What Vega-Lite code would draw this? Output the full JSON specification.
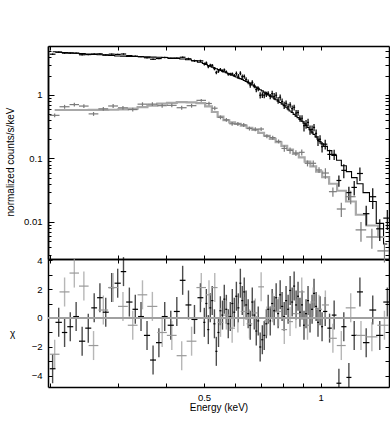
{
  "$schema": "https://vega.github.io/schema/vega-lite/v6.json",
  "width": 341,
  "height": 341,
  "autosize": "none",
  "padding": {"left": 48, "top": 46, "right": 1, "bottom": 47},
  "background": "white",
  "config": {
    "view": {"stroke": null},
    "axis": {
      "grid": false,
      "domainColor": "#000000",
      "domainWidth": 1.5,
      "tickColor": "#000000",
      "tickWidth": 1,
      "labelFont": "Liberation Sans",
      "labelFontSize": 9.5,
      "labelColor": "#000000",
      "titleFont": "Liberation Sans",
      "titleFontSize": 10,
      "titleFontWeight": "normal",
      "titleColor": "#000000"
    }
  },
  "data": {
    "values": [
      {"s":"A","e":0.2035,"el":0.2,"eh":0.207,"y":4.39,"yl":4.28,"yh":4.5,"m":4.81,"r":-3.5},
      {"s":"A","e":0.211,"el":0.207,"eh":0.215,"y":4.71,"yl":4.59,"yh":4.83,"m":4.75,"r":-0.3},
      {"s":"A","e":0.2185,"el":0.215,"eh":0.222,"y":4.56,"yl":4.45,"yh":4.67,"m":4.68,"r":-1.0},
      {"s":"A","e":0.226,"el":0.222,"eh":0.23,"y":4.55,"yl":4.44,"yh":4.66,"m":4.62,"r":-0.6},
      {"s":"A","e":0.234,"el":0.23,"eh":0.238,"y":4.56,"yl":4.45,"yh":4.67,"m":4.55,"r":0.1},
      {"s":"A","e":0.2425,"el":0.238,"eh":0.247,"y":4.3,"yl":4.19,"yh":4.41,"m":4.48,"r":-1.6},
      {"s":"A","e":0.2515,"el":0.247,"eh":0.256,"y":4.33,"yl":4.22,"yh":4.44,"m":4.41,"r":-0.7},
      {"s":"A","e":0.2605,"el":0.256,"eh":0.265,"y":4.43,"yl":4.32,"yh":4.54,"m":4.35,"r":0.7},
      {"s":"A","e":0.2695,"el":0.265,"eh":0.274,"y":4.45,"yl":4.34,"yh":4.56,"m":4.3,"r":1.4},
      {"s":"A","e":0.279,"el":0.274,"eh":0.284,"y":4.28,"yl":4.17,"yh":4.39,"m":4.24,"r":0.4},
      {"s":"A","e":0.289,"el":0.284,"eh":0.294,"y":4.4,"yl":4.29,"yh":4.51,"m":4.18,"r":2.1},
      {"s":"A","e":0.2995,"el":0.294,"eh":0.305,"y":4.36,"yl":4.25,"yh":4.47,"m":4.11,"r":2.4},
      {"s":"A","e":0.31,"el":0.305,"eh":0.315,"y":4.42,"yl":4.31,"yh":4.53,"m":4.09,"r":3.2},
      {"s":"A","e":0.321,"el":0.315,"eh":0.327,"y":4.17,"yl":4.07,"yh":4.27,"m":4.06,"r":1.1},
      {"s":"A","e":0.3325,"el":0.327,"eh":0.338,"y":4.09,"yl":3.99,"yh":4.19,"m":4.03,"r":0.6},
      {"s":"A","e":0.344,"el":0.338,"eh":0.35,"y":4.02,"yl":3.92,"yh":4.12,"m":4.01,"r":0.1},
      {"s":"A","e":0.3565,"el":0.35,"eh":0.363,"y":3.86,"yl":3.76,"yh":3.96,"m":3.98,"r":-1.2},
      {"s":"A","e":0.3695,"el":0.363,"eh":0.376,"y":3.66,"yl":3.57,"yh":3.75,"m":3.95,"r":-2.9},
      {"s":"A","e":0.3825,"el":0.376,"eh":0.389,"y":3.75,"yl":3.66,"yh":3.84,"m":3.92,"r":-1.7},
      {"s":"A","e":0.396,"el":0.389,"eh":0.403,"y":3.9,"yl":3.8,"yh":4.0,"m":3.89,"r":0.1},
      {"s":"A","e":0.4105,"el":0.403,"eh":0.418,"y":3.77,"yl":3.68,"yh":3.86,"m":3.82,"r":-0.5},
      {"s":"A","e":0.4255,"el":0.418,"eh":0.433,"y":3.81,"yl":3.71,"yh":3.91,"m":3.77,"r":0.45},
      {"s":"A","e":0.4405,"el":0.433,"eh":0.448,"y":3.93,"yl":3.83,"yh":4.03,"m":3.69,"r":2.6},
      {"s":"A","e":0.456,"el":0.448,"eh":0.464,"y":3.72,"yl":3.57,"yh":3.87,"m":3.59,"r":0.9},
      {"s":"A","e":0.4725,"el":0.464,"eh":0.481,"y":3.46,"yl":3.32,"yh":3.6,"m":3.47,"r":-0.1},
      {"s":"A","e":0.4895,"el":0.481,"eh":0.498,"y":3.45,"yl":3.31,"yh":3.59,"m":3.27,"r":1.4},
      {"s":"A","e":0.501,"el":0.498,"eh":0.504,"y":3.08,"yl":2.91,"yh":3.25,"m":3.13,"r":-0.3},
      {"s":"A","e":0.507,"el":0.504,"eh":0.51,"y":3.2,"yl":3.03,"yh":3.37,"m":3.03,"r":1.0},
      {"s":"A","e":0.513,"el":0.51,"eh":0.516,"y":2.79,"yl":2.63,"yh":2.95,"m":2.92,"r":-0.8},
      {"s":"A","e":0.519,"el":0.516,"eh":0.522,"y":2.94,"yl":2.78,"yh":3.1,"m":2.83,"r":0.7},
      {"s":"A","e":0.525,"el":0.522,"eh":0.5285,"y":2.93,"yl":2.78,"yh":3.08,"m":2.75,"r":1.2},
      {"s":"A","e":0.532,"el":0.5285,"eh":0.535,"y":2.6,"yl":2.45,"yh":2.75,"m":2.66,"r":-0.4},
      {"s":"A","e":0.538,"el":0.535,"eh":0.5415,"y":2.26,"yl":2.12,"yh":2.4,"m":2.59,"r":-2.3},
      {"s":"A","e":0.545,"el":0.5415,"eh":0.548,"y":2.37,"yl":2.23,"yh":2.51,"m":2.51,"r":-1.0},
      {"s":"A","e":0.551,"el":0.548,"eh":0.5545,"y":2.52,"yl":2.38,"yh":2.65,"m":2.45,"r":0.5},
      {"s":"A","e":0.558,"el":0.5545,"eh":0.561,"y":2.4,"yl":2.27,"yh":2.53,"m":2.37,"r":0.2},
      {"s":"A","e":0.564,"el":0.561,"eh":0.5675,"y":2.48,"yl":2.35,"yh":2.61,"m":2.31,"r":1.3},
      {"s":"A","e":0.571,"el":0.5675,"eh":0.574,"y":2.31,"yl":2.19,"yh":2.43,"m":2.24,"r":0.6},
      {"s":"A","e":0.5775,"el":0.574,"eh":0.581,"y":2.13,"yl":2.01,"yh":2.25,"m":2.18,"r":-0.4},
      {"s":"A","e":0.5845,"el":0.581,"eh":0.588,"y":2.13,"yl":2.01,"yh":2.25,"m":2.12,"r":0.1},
      {"s":"A","e":0.5915,"el":0.588,"eh":0.595,"y":2.16,"yl":2.05,"yh":2.27,"m":2.05,"r":1.0},
      {"s":"A","e":0.5985,"el":0.595,"eh":0.602,"y":2.03,"yl":1.92,"yh":2.14,"m":1.99,"r":0.4},
      {"s":"A","e":0.606,"el":0.602,"eh":0.6095,"y":2.18,"yl":2.01,"yh":2.35,"m":1.92,"r":1.5},
      {"s":"A","e":0.613,"el":0.6095,"eh":0.617,"y":1.98,"yl":1.81,"yh":2.15,"m":1.86,"r":0.7},
      {"s":"A","e":0.6205,"el":0.617,"eh":0.624,"y":2.2,"yl":2.04,"yh":2.36,"m":1.81,"r":2.4},
      {"s":"A","e":0.6275,"el":0.624,"eh":0.631,"y":1.94,"yl":1.78,"yh":2.1,"m":1.75,"r":1.2},
      {"s":"A","e":0.635,"el":0.631,"eh":0.6385,"y":1.96,"yl":1.81,"yh":2.11,"m":1.69,"r":1.8},
      {"s":"A","e":0.642,"el":0.6385,"eh":0.646,"y":1.76,"yl":1.61,"yh":1.91,"m":1.63,"r":0.9},
      {"s":"A","e":0.65,"el":0.646,"eh":0.654,"y":1.61,"yl":1.47,"yh":1.75,"m":1.57,"r":0.3},
      {"s":"A","e":0.658,"el":0.654,"eh":0.662,"y":1.44,"yl":1.3,"yh":1.58,"m":1.51,"r":-0.5},
      {"s":"A","e":0.666,"el":0.662,"eh":0.67,"y":1.58,"yl":1.45,"yh":1.71,"m":1.44,"r":1.1},
      {"s":"A","e":0.674,"el":0.67,"eh":0.678,"y":1.4,"yl":1.28,"yh":1.52,"m":1.38,"r":0.2},
      {"s":"A","e":0.682,"el":0.678,"eh":0.686,"y":1.22,"yl":1.1,"yh":1.34,"m":1.33,"r":-0.9},
      {"s":"A","e":0.69,"el":0.686,"eh":0.694,"y":1.25,"yl":1.14,"yh":1.36,"m":1.27,"r":-0.2},
      {"s":"A","e":0.698,"el":0.694,"eh":0.7025,"y":0.99,"yl":0.88,"yh":1.1,"m":1.21,"r":-2.0},
      {"s":"A","e":0.707,"el":0.7025,"eh":0.711,"y":1.0,"yl":0.9,"yh":1.1,"m":1.16,"r":-1.5},
      {"s":"A","e":0.715,"el":0.711,"eh":0.7195,"y":0.99,"yl":0.89,"yh":1.09,"m":1.11,"r":-1.2},
      {"s":"A","e":0.724,"el":0.7195,"eh":0.728,"y":1.02,"yl":0.93,"yh":1.12,"m":1.06,"r":-0.4},
      {"s":"A","e":0.732,"el":0.728,"eh":0.7365,"y":1.06,"yl":0.97,"yh":1.15,"m":1.01,"r":0.6},
      {"s":"A","e":0.741,"el":0.7365,"eh":0.745,"y":0.95,"yl":0.86,"yh":1.04,"m":0.97,"r":-0.2},
      {"s":"A","e":0.7495,"el":0.745,"eh":0.754,"y":1.05,"yl":0.93,"yh":1.17,"m":0.93,"r":1.0},
      {"s":"A","e":0.7585,"el":0.754,"eh":0.763,"y":0.95,"yl":0.83,"yh":1.07,"m":0.89,"r":0.5},
      {"s":"A","e":0.7675,"el":0.763,"eh":0.772,"y":0.99,"yl":0.88,"yh":1.1,"m":0.84,"r":1.4},
      {"s":"A","e":0.7765,"el":0.772,"eh":0.781,"y":0.83,"yl":0.73,"yh":0.93,"m":0.8,"r":0.3},
      {"s":"A","e":0.786,"el":0.781,"eh":0.7905,"y":0.92,"yl":0.82,"yh":1.02,"m":0.76,"r":1.6},
      {"s":"A","e":0.795,"el":0.7905,"eh":0.8,"y":0.79,"yl":0.7,"yh":0.88,"m":0.72,"r":0.8},
      {"s":"A","e":0.805,"el":0.8,"eh":0.8095,"y":0.69,"yl":0.6,"yh":0.78,"m":0.68,"r":0.1},
      {"s":"A","e":0.814,"el":0.8095,"eh":0.819,"y":0.74,"yl":0.66,"yh":0.82,"m":0.64,"r":1.2},
      {"s":"A","e":0.824,"el":0.819,"eh":0.829,"y":0.65,"yl":0.57,"yh":0.73,"m":0.6,"r":0.6},
      {"s":"A","e":0.834,"el":0.829,"eh":0.839,"y":0.7,"yl":0.63,"yh":0.77,"m":0.56,"r":1.9},
      {"s":"A","e":0.844,"el":0.839,"eh":0.849,"y":0.61,"yl":0.54,"yh":0.68,"m":0.53,"r":1.1},
      {"s":"A","e":0.854,"el":0.849,"eh":0.859,"y":0.64,"yl":0.57,"yh":0.7,"m":0.495,"r":2.2},
      {"s":"A","e":0.864,"el":0.859,"eh":0.869,"y":0.52,"yl":0.46,"yh":0.58,"m":0.465,"r":0.9},
      {"s":"A","e":0.874,"el":0.869,"eh":0.879,"y":0.53,"yl":0.47,"yh":0.58,"m":0.44,"r":1.5},
      {"s":"A","e":0.884,"el":0.879,"eh":0.8895,"y":0.43,"yl":0.38,"yh":0.48,"m":0.41,"r":0.4},
      {"s":"A","e":0.895,"el":0.8895,"eh":0.9,"y":0.43,"yl":0.38,"yh":0.48,"m":0.385,"r":0.9},
      {"s":"A","e":0.9055,"el":0.9,"eh":0.911,"y":0.328,"yl":0.267,"yh":0.389,"m":0.358,"r":-0.5},
      {"s":"A","e":0.9165,"el":0.911,"eh":0.922,"y":0.349,"yl":0.293,"yh":0.405,"m":0.332,"r":0.3},
      {"s":"A","e":0.9275,"el":0.922,"eh":0.933,"y":0.37,"yl":0.318,"yh":0.422,"m":0.307,"r":1.2},
      {"s":"A","e":0.9385,"el":0.933,"eh":0.944,"y":0.284,"yl":0.236,"yh":0.332,"m":0.284,"r":0.0},
      {"s":"A","e":0.95,"el":0.944,"eh":0.9555,"y":0.287,"yl":0.243,"yh":0.331,"m":0.26,"r":0.6},
      {"s":"A","e":0.961,"el":0.9555,"eh":0.967,"y":0.309,"yl":0.268,"yh":0.35,"m":0.24,"r":1.7},
      {"s":"A","e":0.973,"el":0.967,"eh":0.9785,"y":0.249,"yl":0.212,"yh":0.286,"m":0.219,"r":0.8},
      {"s":"A","e":0.984,"el":0.9785,"eh":0.99,"y":0.191,"yl":0.157,"yh":0.225,"m":0.201,"r":-0.3},
      {"s":"A","e":0.996,"el":0.99,"eh":1.002,"y":0.201,"yl":0.17,"yh":0.232,"m":0.185,"r":0.5},
      {"s":"A","e":1.008,"el":1.002,"eh":1.014,"y":0.153,"yl":0.124,"yh":0.182,"m":0.17,"r":-0.6},
      {"s":"A","e":1.027,"el":1.014,"eh":1.04,"y":0.168,"yl":0.138,"yh":0.198,"m":0.155,"r":0.45},
      {"s":"A","e":1.054,"el":1.04,"eh":1.068,"y":0.116,"yl":0.095,"yh":0.137,"m":0.133,"r":-0.7},
      {"s":"A","e":1.083,"el":1.068,"eh":1.098,"y":0.116,"yl":0.095,"yh":0.137,"m":0.112,"r":0.2},
      {"s":"A","e":1.114,"el":1.098,"eh":1.13,"y":0.045,"yl":0.036,"yh":0.054,"m":0.094,"r":-4.5},
      {"s":"A","e":1.147,"el":1.13,"eh":1.165,"y":0.065,"yl":0.049,"yh":0.081,"m":0.077,"r":-0.6},
      {"s":"A","e":1.182,"el":1.165,"eh":1.2,"y":0.029,"yl":0.022,"yh":0.036,"m":0.062,"r":-4.1},
      {"s":"A","e":1.22,"el":1.2,"eh":1.24,"y":0.035,"yl":0.026,"yh":0.044,"m":0.05,"r":-1.2},
      {"s":"A","e":1.262,"el":1.24,"eh":1.285,"y":0.058,"yl":0.044,"yh":0.072,"m":0.04,"r":1.8},
      {"s":"A","e":1.31,"el":1.285,"eh":1.335,"y":0.0135,"yl":0.0088,"yh":0.018,"m":0.029,"r":-1.7},
      {"s":"A","e":1.362,"el":1.335,"eh":1.39,"y":0.025,"yl":0.016,"yh":0.034,"m":0.021,"r":0.55},
      {"s":"A","e":1.42,"el":1.39,"eh":1.45,"y":0.0078,"yl":0.005,"yh":0.011,"m":0.0095,"r":-1.2},
      {"s":"A","e":1.485,"el":1.45,"eh":1.52,"y":0.0115,"yl":0.0075,"yh":0.0155,"m":0.0045,"r":1.1},
      {"s":"B","e":0.206,"el":0.2,"eh":0.212,"y":0.478,"yl":0.445,"yh":0.511,"m":0.58,"r":-2.5},
      {"s":"B","e":0.2185,"el":0.212,"eh":0.225,"y":0.653,"yl":0.607,"yh":0.699,"m":0.58,"r":1.8},
      {"s":"B","e":0.2315,"el":0.225,"eh":0.238,"y":0.706,"yl":0.657,"yh":0.755,"m":0.58,"r":3.1},
      {"s":"B","e":0.245,"el":0.238,"eh":0.252,"y":0.669,"yl":0.622,"yh":0.716,"m":0.58,"r":2.2},
      {"s":"B","e":0.2595,"el":0.252,"eh":0.267,"y":0.504,"yl":0.469,"yh":0.539,"m":0.581,"r":-1.9},
      {"s":"B","e":0.275,"el":0.267,"eh":0.283,"y":0.605,"yl":0.563,"yh":0.647,"m":0.583,"r":0.55},
      {"s":"B","e":0.2915,"el":0.283,"eh":0.3,"y":0.671,"yl":0.624,"yh":0.718,"m":0.585,"r":2.1},
      {"s":"B","e":0.309,"el":0.3,"eh":0.318,"y":0.628,"yl":0.584,"yh":0.672,"m":0.595,"r":0.8},
      {"s":"B","e":0.3275,"el":0.318,"eh":0.337,"y":0.589,"yl":0.548,"yh":0.63,"m":0.61,"r":-0.5},
      {"s":"B","e":0.347,"el":0.337,"eh":0.357,"y":0.717,"yl":0.667,"yh":0.767,"m":0.645,"r":1.6},
      {"s":"B","e":0.368,"el":0.357,"eh":0.379,"y":0.718,"yl":0.668,"yh":0.768,"m":0.68,"r":0.8},
      {"s":"B","e":0.39,"el":0.379,"eh":0.401,"y":0.679,"yl":0.631,"yh":0.727,"m":0.73,"r":-1.0},
      {"s":"B","e":0.413,"el":0.401,"eh":0.425,"y":0.687,"yl":0.639,"yh":0.735,"m":0.75,"r":-1.2},
      {"s":"B","e":0.438,"el":0.425,"eh":0.451,"y":0.63,"yl":0.586,"yh":0.674,"m":0.77,"r":-2.6},
      {"s":"B","e":0.4645,"el":0.451,"eh":0.478,"y":0.679,"yl":0.631,"yh":0.727,"m":0.765,"r":-1.6},
      {"s":"B","e":0.492,"el":0.478,"eh":0.506,"y":0.823,"yl":0.782,"yh":0.864,"m":0.745,"r":2.1},
      {"s":"B","e":0.515,"el":0.506,"eh":0.524,"y":0.734,"yl":0.683,"yh":0.785,"m":0.66,"r":1.6},
      {"s":"B","e":0.533,"el":0.524,"eh":0.542,"y":0.619,"yl":0.576,"yh":0.662,"m":0.54,"r":2.1},
      {"s":"B","e":0.5515,"el":0.542,"eh":0.561,"y":0.445,"yl":0.414,"yh":0.476,"m":0.455,"r":-0.3},
      {"s":"B","e":0.571,"el":0.561,"eh":0.581,"y":0.406,"yl":0.378,"yh":0.434,"m":0.4,"r":0.2},
      {"s":"B","e":0.591,"el":0.581,"eh":0.601,"y":0.352,"yl":0.327,"yh":0.377,"m":0.37,"r":-0.7},
      {"s":"B","e":0.6115,"el":0.601,"eh":0.622,"y":0.35,"yl":0.326,"yh":0.375,"m":0.35,"r":0},
      {"s":"B","e":0.633,"el":0.622,"eh":0.644,"y":0.338,"yl":0.314,"yh":0.362,"m":0.328,"r":0.45},
      {"s":"B","e":0.655,"el":0.644,"eh":0.666,"y":0.296,"yl":0.275,"yh":0.317,"m":0.305,"r":-0.4},
      {"s":"B","e":0.678,"el":0.666,"eh":0.69,"y":0.289,"yl":0.269,"yh":0.309,"m":0.282,"r":0.35},
      {"s":"B","e":0.702,"el":0.69,"eh":0.714,"y":0.291,"yl":0.271,"yh":0.311,"m":0.253,"r":2.15},
      {"s":"B","e":0.7265,"el":0.714,"eh":0.739,"y":0.225,"yl":0.209,"yh":0.241,"m":0.228,"r":-0.2},
      {"s":"B","e":0.752,"el":0.739,"eh":0.765,"y":0.213,"yl":0.198,"yh":0.228,"m":0.203,"r":0.7},
      {"s":"B","e":0.7785,"el":0.765,"eh":0.792,"y":0.186,"yl":0.173,"yh":0.199,"m":0.18,"r":0.45},
      {"s":"B","e":0.8055,"el":0.792,"eh":0.819,"y":0.144,"yl":0.128,"yh":0.16,"m":0.158,"r":-0.8},
      {"s":"B","e":0.8335,"el":0.819,"eh":0.848,"y":0.134,"yl":0.119,"yh":0.149,"m":0.138,"r":-0.25},
      {"s":"B","e":0.863,"el":0.848,"eh":0.878,"y":0.122,"yl":0.109,"yh":0.135,"m":0.118,"r":0.3},
      {"s":"B","e":0.8935,"el":0.878,"eh":0.909,"y":0.125,"yl":0.111,"yh":0.139,"m":0.104,"r":1.8},
      {"s":"B","e":0.9245,"el":0.909,"eh":0.94,"y":0.084,"yl":0.075,"yh":0.093,"m":0.089,"r":-0.5},
      {"s":"B","e":0.9565,"el":0.94,"eh":0.973,"y":0.084,"yl":0.075,"yh":0.093,"m":0.075,"r":1.1},
      {"s":"B","e":0.99,"el":0.973,"eh":1.007,"y":0.066,"yl":0.059,"yh":0.073,"m":0.062,"r":0.6},
      {"s":"B","e":1.028,"el":1.007,"eh":1.05,"y":0.059,"yl":0.048,"yh":0.07,"m":0.051,"r":0.9},
      {"s":"B","e":1.075,"el":1.05,"eh":1.1,"y":0.03,"yl":0.025,"yh":0.035,"m":0.04,"r":-1.4},
      {"s":"B","e":1.13,"el":1.1,"eh":1.16,"y":0.016,"yl":0.012,"yh":0.02,"m":0.031,"r":-1.9},
      {"s":"B","e":1.195,"el":1.16,"eh":1.23,"y":0.025,"yl":0.019,"yh":0.031,"m":0.021,"r":0.7},
      {"s":"B","e":1.27,"el":1.23,"eh":1.31,"y":0.0075,"yl":0.0049,"yh":0.01,"m":0.013,"r":-1.2},
      {"s":"B","e":1.355,"el":1.31,"eh":1.4,"y":0.0058,"yl":0.0038,"yh":0.0078,"m":0.0088,"r":-1.3},
      {"s":"B","e":1.46,"el":1.4,"eh":1.52,"y":0.0035,"yl":0.0023,"yh":0.0047,"m":0.0058,"r":-0.5}
    ]
  },
  "layer": [
    {
      "layer": [
        {
          "mark": {"type": "line", "interpolate": "step", "clip": true},
          "encoding": {
            "x": {"field": "e", "type": "quantitative", "scale": {"type": "log", "domain": [0.198, 1.5], "nice": false}, "axis": null},
            "y": {"field": "m", "type": "quantitative", "scale": {"type": "log", "domain": [0.00261, 5.91], "range": [213, 0], "nice": false},
                  "axis": {"orient": "right", "values": [0.003,0.004,0.005,0.006,0.007,0.008,0.009,0.01,0.02,0.03,0.04,0.05,0.06,0.07,0.08,0.09,0.1,0.2,0.3,0.4,0.5,0.6,0.7,0.8,0.9,1,2,3,4,5], "labels": false, "tickSize": -4, "title": null}},
            "detail": {"field": "s"},
            "color": {"condition": {"test": "datum.s === 'A'", "value": "#000000"}, "value": "#a8a8a8"},
            "strokeWidth": {"condition": {"test": "datum.s === 'A'", "value": 1.1}, "value": 2.2}
          }
        },
        {
          "mark": {"type": "rule", "clip": true, "strokeWidth": 1.2},
          "encoding": {
            "x": {"field": "e", "type": "quantitative", "scale": {"type": "log", "domain": [0.198, 1.5], "nice": false},
                  "axis": {"orient": "bottom", "offset": -128, "values": [0.2,0.3,0.4,0.5,0.6,0.7,0.8,0.9,1], "labels": false, "tickSize": -4, "title": null}},
            "y": {"field": "yl", "type": "quantitative", "scale": {"type": "log", "domain": [0.00261, 5.91], "range": [213, 0], "nice": false},
                  "axis": {"orient": "left", "values": [0.01, 0.1, 1], "tickSize": -6, "labelPadding": 12, "labelOverlap": false,
                           "labelExpr": "datum.value >= 0.5 ? '1' : datum.value >= 0.05 ? '0.1' : '0.01'",
                           "title": "normalized counts/s/keV", "titleX": -34.5, "titleY": 115.5, "titleBaseline": "alphabetic", "titleAlign": "center"}},
            "y2": {"field": "yh"},
            "color": {"condition": {"test": "datum.s === 'A'", "value": "#000000"}, "value": "#7a7a7a"}
          }
        },
        {
          "mark": {"type": "rule", "clip": true, "strokeWidth": 1.2},
          "encoding": {
            "x": {"field": "el", "type": "quantitative", "scale": {"type": "log", "domain": [0.198, 1.5], "nice": false},
                  "axis": {"orient": "top", "values": [0.2,0.3,0.4,0.5,0.6,0.7,0.8,0.9,1], "labels": false, "tickSize": -4, "title": null}},
            "x2": {"field": "eh"},
            "y": {"field": "y", "type": "quantitative", "scale": {"type": "log", "domain": [0.00261, 5.91], "range": [213, 0], "nice": false},
                  "axis": {"orient": "left", "values": [0.003,0.004,0.005,0.006,0.007,0.008,0.009,0.02,0.03,0.04,0.05,0.06,0.07,0.08,0.09,0.2,0.3,0.4,0.5,0.6,0.7,0.8,0.9,2,3,4,5], "labels": false, "tickSize": -3, "title": null}},
            "color": {"condition": {"test": "datum.s === 'A'", "value": "#000000"}, "value": "#7a7a7a"}
          }
        }
      ],
      "resolve": {"axis": {"x": "independent", "y": "independent"}}
    },
    {
      "layer": [
        {
          "mark": {"type": "tick", "orient": "vertical", "size": 29, "thickness": 1.4, "clip": true},
          "encoding": {
            "x": {"field": "e", "type": "quantitative", "scale": {"type": "log", "domain": [0.198, 1.5], "nice": false},
                  "axis": {"orient": "bottom", "values": [0.2,0.3,0.4,0.5,0.6,0.7,0.8,0.9,1], "tickSize": -4, "labelPadding": 9, "labelOverlap": false, "labelFlush": false,
                           "labelExpr": "datum.value == 0.5 ? '0.5' : datum.value == 1 ? '1' : ''",
                           "title": "Energy (keV)", "titleY": 23, "titleBaseline": "alphabetic"}},
            "y": {"field": "r", "type": "quantitative", "scale": {"domain": [-4.76, 4.07], "range": [341, 213], "nice": false, "zero": false},
                  "axis": {"orient": "left", "values": [-4,-3,-2,-1,0,1,2,3,4], "format": "d", "tickSize": -4, "labelPadding": 10, "labelOverlap": false,
                           "labelExpr": "datum.value % 2 == 0 ? datum.label : ''",
                           "title": "χ", "titleAngle": 0, "titleX": -36, "titleY": 287, "titleAlign": "center", "titleBaseline": "middle"}},
            "color": {"condition": {"test": "datum.s === 'A'", "value": "#000000"}, "value": "#999999"}
          }
        },
        {
          "mark": {"type": "rule", "clip": true, "strokeWidth": 1.2},
          "encoding": {
            "x": {"field": "el", "type": "quantitative", "scale": {"type": "log", "domain": [0.198, 1.5], "nice": false},
                  "axis": {"orient": "top", "offset": -213, "values": [0.2,0.3,0.4,0.5,0.6,0.7,0.8,0.9,1], "labels": false, "tickSize": -4, "title": null}},
            "x2": {"field": "eh"},
            "y": {"field": "r", "type": "quantitative", "scale": {"domain": [-4.76, 4.07], "range": [341, 213], "nice": false, "zero": false},
                  "axis": {"orient": "right", "values": [-4,-3,-2,-1,0,1,2,3,4], "labels": false, "tickSize": -4, "title": null}},
            "color": {"condition": {"test": "datum.s === 'A'", "value": "#000000"}, "value": "#999999"}
          }
        },
        {
          "mark": {"type": "rule", "color": "#a0a0a0", "strokeWidth": 1.5},
          "encoding": {
            "y": {"datum": 0, "type": "quantitative", "scale": {"domain": [-4.76, 4.07], "range": [341, 213], "nice": false, "zero": false}, "axis": null}
          }
        }
      ],
      "resolve": {"axis": {"x": "independent", "y": "independent"}}
    }
  ],
  "resolve": {"scale": {"y": "independent"}, "axis": {"x": "independent", "y": "independent"}}
}
